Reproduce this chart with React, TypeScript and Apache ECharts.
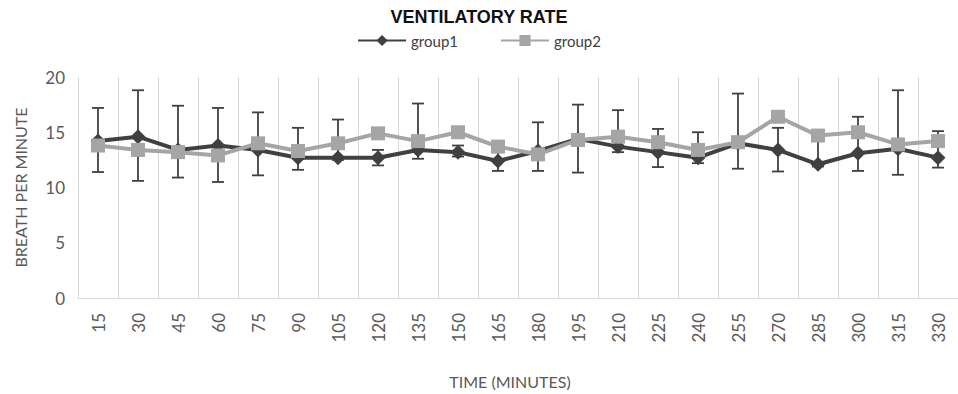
import React, { useEffect, useRef } from "react";
import * as echarts from "echarts";

const categories = ["15","30","45","60","75","90","105","120","135","150","165","180","195","210","225","240","255","270","285","300","315","330"];
const group1 = [14.2,14.6,13.4,13.8,13.4,12.7,12.7,12.7,13.4,13.2,12.4,13.3,14.4,13.7,13.2,12.7,14.0,13.4,12.1,13.1,13.5,12.7];
const group2 = [13.8,13.4,13.2,12.9,14.0,13.3,14.0,14.9,14.2,15.0,13.7,13.0,14.3,14.6,14.1,13.4,14.1,16.4,14.7,15.0,13.9,14.2];
const errLow = [11.4,10.6,10.9,10.5,11.1,11.6,12.5,12.0,12.6,12.8,11.5,11.5,11.35,13.2,11.85,12.2,11.7,11.45,11.9,11.5,11.15,11.8];
const errHigh = [17.2,18.8,17.4,17.2,16.8,15.4,16.15,13.4,17.6,13.8,13.2,15.9,17.5,17.0,15.3,15.0,18.5,15.4,14.3,16.4,18.8,15.1];
const yTicks = [0, 5, 10, 15, 20];

export default function App() {
  const ref = useRef<HTMLDivElement>(null);
  useEffect(() => {
    if (!ref.current) return;
    const chart = echarts.init(ref.current, null, { renderer: "svg" });
    const errData = categories.map((_, i) => [i, errLow[i], errHigh[i]]);
    chart.setOption({
      animation: false,
      backgroundColor: "#ffffff",
      title: {
        text: "VENTILATORY RATE",
        left: "center",
        top: 3,
        textStyle: { fontFamily: "Liberation Sans, Arial, sans-serif", fontWeight: "bold", fontSize: 18, color: "#111111" },
      },
      legend: {
        top: 28,
        left: "center",
        itemWidth: 48,
        itemHeight: 14,
        itemGap: 42,
        data: ["group1", "group2"],
        textStyle: { fontFamily: "Lato, sans-serif", fontSize: 15, color: "#404040" },
      },
      grid: { left: 78, top: 77, height: 225, width: 884, containLabel: false },
      xAxis: {
        type: "category",
        data: categories,
        boundaryGap: true,
        name: "TIME (MINUTES)",
        nameLocation: "middle",
        nameGap: 75,
        nameTextStyle: { fontFamily: "Lato, sans-serif", fontSize: 16, color: "#595959", padding: [0, 16, 0, 0] },
        axisLine: { show: true, lineStyle: { color: "#d9d9d9", width: 1 } },
        axisTick: { show: false },
        axisLabel: { rotate: 90, interval: 0, margin: 15, fontFamily: "Lato, sans-serif", fontSize: 17, color: "#595959" },
        splitLine: { show: true, interval: 0, lineStyle: { color: "#d9d9d9", width: 1 } },
      },
      yAxis: {
        type: "value",
        min: yTicks[0],
        max: yTicks[yTicks.length - 1],
        interval: 5,
        name: "BREATH PER MINUTE",
        nameLocation: "middle",
        nameGap: 50,
        nameTextStyle: { fontFamily: "Lato, sans-serif", fontSize: 16, color: "#595959" },
        axisLine: { show: false },
        axisTick: { show: false },
        axisLabel: { margin: 13, fontFamily: "Lato, sans-serif", fontSize: 17, color: "#595959" },
        splitLine: { show: false },
      },
      series: [
        {
          type: "custom",
          name: "err",
          z: 1,
          data: errData,
          renderItem: (params: any, api: any) => {
            const x = api.value(0);
            const lo = api.coord([x, api.value(1)]);
            const hi = api.coord([x, api.value(2)]);
            const hw = 6;
            const style = { stroke: "#404040", lineWidth: 1.8 };
            return {
              type: "group",
              children: [
                { type: "line", shape: { x1: lo[0], y1: lo[1], x2: hi[0], y2: hi[1] }, style },
                { type: "line", shape: { x1: hi[0] - hw, y1: hi[1], x2: hi[0] + hw, y2: hi[1] }, style },
                { type: "line", shape: { x1: lo[0] - hw, y1: lo[1], x2: lo[0] + hw, y2: lo[1] }, style },
              ],
            };
          },
        },
        {
          type: "line",
          name: "group1",
          z: 2,
          data: group1,
          symbol: "diamond",
          symbolSize: 15,
          itemStyle: { color: "#404040" },
          lineStyle: { color: "#404040", width: 4 },
        },
        {
          type: "line",
          name: "group2",
          z: 3,
          data: group2,
          symbol: "rect",
          symbolSize: 14,
          itemStyle: { color: "#a5a5a5" },
          lineStyle: { color: "#a5a5a5", width: 4 },
        },
      ],
    });
    return () => chart.dispose();
  }, []);
  return <div ref={ref} style={{ position: "fixed", left: 0, top: 0, width: 958, height: 394 }} />;
}
